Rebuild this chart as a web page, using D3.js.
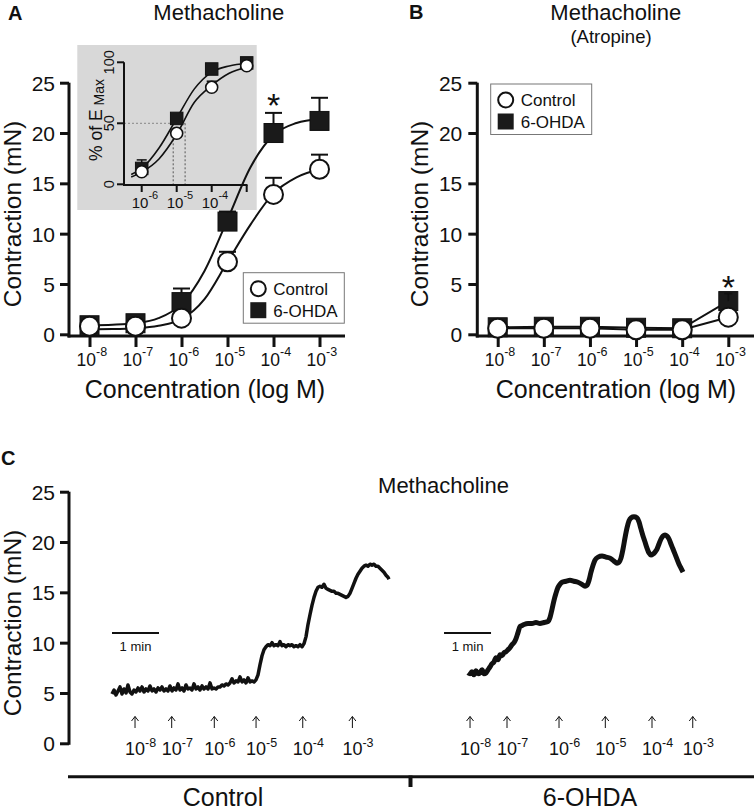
<!DOCTYPE html>
<html><head><meta charset="utf-8">
<script src="https://cdn.jsdelivr.net/npm/d3@7"></script>
<style>
body{margin:0;background:#fff;}
svg{display:block;font-family:"Liberation Sans",Arial,Helvetica,sans-serif;}
</style></head><body>
<svg id="c" width="754" height="810"></svg>
<script>
// ---------------- DATA ----------------
const logConc = [-8, -7, -6, -5, -4, -3];
const expLabels = ["-8", "-7", "-6", "-5", "-4", "-3"];
const yTicks = [0, 5, 10, 15, 20, 25];

// Panel A: methacholine (mN)
const aControl = [0.8, 0.8, 1.6, 7.2, 13.9, 16.4];
const aControlSem = [0.1, 0.1, 0.3, 1.0, 1.65, 1.45];
const aOhda = [0.9, 1.1, 3.2, 11.2, 20.0, 21.2];
const aOhdaSem = [0.2, 0.3, 1.35, 1.0, 2.0, 2.3];

// Panel A fitted curves
const fitLog = [-8, -7.5, -7, -6.5, -6, -5.5, -5, -4.5, -4, -3.5, -3];
const fitControl = [0.5, 0.52, 0.6, 0.85, 1.5, 3.5, 7.2, 10.9, 14.0, 15.6, 16.4];
const fitOhda = [0.9, 0.95, 1.1, 1.6, 3.0, 6.3, 11.4, 16.6, 19.8, 21.0, 21.4];

// Inset: % of Emax
const insetLog = [-6, -5, -4, -3];
const insetTickLabels = ["-6", "-5", "-4", ""];
const insetControl = [10.3, 41.8, 79.5, 97.2];
const insetControlSem = [2, 3, 5, 2];
const insetOhda = [13, 54, 94.5, 99.5];
const insetOhdaSem = [7, 3, 2, 1];
const insetFitLog = [-6.3, -6, -5.5, -5, -4.5, -4, -3.5, -3];
const insetFitControl = [6, 10, 21, 41, 67, 81, 91, 96];
const insetFitOhda = [8, 13, 30, 54, 78, 92, 97, 99];
const ec50Ohda = -5.1, ec50Control = -4.76;

// Panel B: methacholine + atropine (mN)
const bControl = [0.6, 0.6, 0.6, 0.45, 0.45, 1.7];
const bOhda = [0.7, 0.75, 0.75, 0.65, 0.6, 3.3];
const bOhdaSem = [0.05, 0.05, 0.05, 0.05, 0.05, 0.75];

// Panel C: raw traces [time (s), mN]
const traceControl = [
[0,4.9],[2.6,5.3],[5.1,4.8],[7.7,5.2],[10.2,5.6],[12.8,4.9],[15.3,5.4],[17.9,5.0],[20.4,5.8],[23,5.1],
[25.5,4.9],[28.1,5.3],[30.6,5.1],[33.2,5.5],[35.7,5.2],[38.3,5.6],[40.9,5.1],[43.4,5.4],[46,5.2],[48.5,5.7],
[51.1,5.2],[53.6,5.4],[56.2,5.1],[58.7,5.5],[61.3,5.3],[63.8,5.6],[66.4,5.2],[68.9,5.4],[71.5,5.2],[74,5.7],
[76.6,5.2],[79.1,5.5],[81.7,5.3],[84.3,5.9],[86.8,5.3],[89.4,5.5],[91.9,5.2],[94.5,5.8],[97,5.4],[99.6,5.5],
[102.1,5.3],[104.7,5.9],[107.2,5.4],[109.8,5.6],[112.3,5.3],[114.9,5.7],[117.4,5.4],[120,5.6],[122.6,5.4],[125.1,6.0],
[127.7,5.4],[130.2,5.5],[132.8,5.4],[135.3,5.6],[137.9,5.6],[140.4,5.8],[143,5.7],[145.5,5.9],[148.1,5.8],[150.6,6.0],
[153.2,6.4],[155.7,6.0],[158.3,6.2],[160.9,6.1],[163.4,6.6],[166,6.1],[168.5,6.3],[171.1,6.0],[173.6,6.5],[176.2,6.1],
[178.7,6.2],[181.3,6.1],[183.8,6.3],[186.4,6.8],[188.9,7.8],[191.5,8.7],[194,9.3],[196.6,9.6],[199.1,9.8],[201.7,9.7],
[204.3,10.0],[206.8,9.7],[209.4,9.8],[211.9,9.7],[214.5,10.1],[217,9.7],[219.6,9.8],[222.1,9.6],[224.7,9.8],[227.2,9.7],
[229.8,9.8],[232.3,9.6],[234.9,9.7],[237.4,9.6],[240,9.8],[242.6,9.6],[245.1,9.9],[247.7,10.6],[250.2,11.8],[252.8,12.8],
[255.3,13.7],[257.9,14.5],[260.4,15.1],[263,15.5],[265.5,15.6],[268.1,15.5],[270.6,15.8],[273.2,15.4],[275.7,15.3],[278.3,15.2],
[280.9,15.1],[283.4,15.1],[286,14.9],[288.5,14.9],[291.1,14.8],[293.6,14.7],[296.2,14.6],[298.7,14.5],[301.3,14.6],[303.8,14.9],
[306.4,15.4],[308.9,15.9],[311.5,16.4],[314,16.8],[316.6,17.1],[319.1,17.4],[321.7,17.6],[324.3,17.7],[326.8,17.6],[329.4,17.8],
[331.9,17.7],[334.5,17.8],[337,17.6],[339.6,17.6],[342.1,17.4],[344.7,17.2],[347.2,17.0],[349.8,16.7],[352.3,16.5],[353.6,16.3]
];
const traceOhda = [
[0,7.0],[2.6,6.9],[5.1,7.1],[7.7,6.8],[10.2,7.2],[12.8,6.9],[15.3,7.0],[17.9,7.3],[20.4,6.9],[23,7.0],
[25.5,7.3],[28.1,7.6],[30.6,7.9],[33.2,8.1],[35.7,8.5],[38.3,8.3],[40.9,8.8],[43.4,8.7],[46,9.0],[48.5,9.1],
[51.1,9.3],[53.6,9.5],[56.2,9.8],[58.7,10.0],[61.3,10.4],[63.8,11.0],[66.4,11.6],[68.9,11.7],[71.5,11.8],[76.6,11.9],
[81.7,11.9],[86.8,12.0],[91.9,11.9],[97,12.0],[102.1,12.1],[104.7,12.5],[107.2,13.3],[109.8,14.2],[112.3,14.9],[114.9,15.5],
[117.4,15.8],[120,16.0],[125.1,16.1],[130.2,16.2],[135.3,16.1],[140.4,16.0],[145.5,15.8],[149.4,15.6],[151.9,15.7],[154.5,16.2],
[157,17.0],[159.6,17.7],[162.1,18.2],[166,18.5],[171.1,18.6],[176.2,18.5],[181.3,18.4],[186.4,18.1],[190.2,17.9],[192.8,18.0],
[195.3,18.4],[197.9,19.3],[200.4,20.4],[203,21.4],[205.5,22.1],[208.1,22.4],[211.9,22.5],[215.7,22.4],[218.3,22.0],[220.8,21.3],
[223.4,20.6],[226,20.0],[228.5,19.4],[231.1,18.9],[233.6,18.7],[236.2,18.8],[238.7,19.0],[241.3,19.3],[243.8,19.8],[246.4,20.3],
[248.9,20.6],[251.5,20.7],[254,20.6],[256.6,20.3],[259.1,19.8],[261.7,19.3],[264.3,18.8],[266.8,18.3],[269.4,17.8],[271.9,17.4],[274.5,17.0]
];
const arrowsControl = [29.4, 76.2, 130.6, 183.9, 243.5, 306.9];
const arrowsOhda = [2.6, 49.8, 116.2, 175.3, 234.9, 286.9];
const groupLabels = ["Control", "6-OHDA"];

// ---------------- DRAWING ----------------
const svg = d3.select("#c");
const INK = "#111";

function supText(parent, x, y, exp, fs, sfs, up) {
  const t = parent.append("text").attr("x", x).attr("y", y)
    .attr("font-size", fs).attr("fill", INK);
  t.append("tspan").text("10");
  t.append("tspan").attr("font-size", sfs).attr("dy", -up).text(exp);
  return t;
}
function yAxisLeft(x, y, pad) {
  const g = svg.append("g").attr("transform", `translate(${x},0)`)
    .call(d3.axisLeft(y).tickValues(yTicks).tickSize(9).tickPadding(pad));
  g.select(".domain").remove();
  g.selectAll(".tick line").attr("stroke", INK).attr("stroke-width", 3);
  g.selectAll(".tick text").attr("font-size", 21).attr("fill", INK)
    .attr("font-family", '"Liberation Sans",Arial,sans-serif').attr("dy", "0.36em");
  return g;
}
function xAxisBottom(x, yPos) {
  const g = svg.append("g").attr("transform", `translate(0,${yPos})`)
    .call(d3.axisBottom(x).tickValues(logConc).tickSize(11).tickFormat(""));
  g.select(".domain").remove();
  g.selectAll(".tick line").attr("stroke", INK).attr("stroke-width", 3);
  logConc.forEach((v, i) => supText(svg, x(v) - 13, yPos + 30, expLabels[i], 17.5, 12.5, 10));
}
function hline(x1, x2, y, w) {
  svg.append("line").attr("x1", x1).attr("x2", x2).attr("y1", y).attr("y2", y)
    .attr("stroke", INK).attr("stroke-width", w);
}
function vline(x, y1, y2, w) {
  svg.append("line").attr("x1", x).attr("x2", x).attr("y1", y1).attr("y2", y2)
    .attr("stroke", INK).attr("stroke-width", w);
}
function rotLabel(x, y, txt, fs) {
  svg.append("text").attr("transform", `translate(${x},${y}) rotate(-90)`)
    .attr("text-anchor", "middle").attr("font-size", fs).attr("fill", INK).text(txt);
}
function label(x, y, txt, fs, anchor, bold) {
  return svg.append("text").attr("x", x).attr("y", y).attr("font-size", fs)
    .attr("text-anchor", anchor || "start").attr("font-weight", bold ? "bold" : null)
    .attr("fill", INK).text(txt);
}
function errBars(g, xs, vals, sems, x, y, cap, w) {
  xs.forEach((v, i) => {
    if (sems[i] <= 0) return;
    const top = y(vals[i] + sems[i]);
    g.append("line").attr("x1", x(v)).attr("x2", x(v)).attr("y1", y(vals[i])).attr("y2", top)
      .attr("stroke", INK).attr("stroke-width", w);
    g.append("line").attr("x1", x(v) - cap / 2).attr("x2", x(v) + cap / 2).attr("y1", top).attr("y2", top)
      .attr("stroke", INK).attr("stroke-width", w);
  });
}
function squares(g, xs, vals, x, y, s) {
  g.selectAll(null).data(xs).enter().append("rect")
    .attr("x", (d) => x(d) - s / 2).attr("y", (d, i) => y(vals[i]) - s / 2)
    .attr("width", s).attr("height", s).attr("fill", "#1a1a1a").attr("stroke", INK).attr("stroke-width", 1);
}
function circles(g, xs, vals, x, y, r, sw) {
  g.selectAll(null).data(xs).enter().append("circle")
    .attr("cx", (d) => x(d)).attr("cy", (d, i) => y(vals[i])).attr("r", r)
    .attr("fill", "#fff").attr("stroke", INK).attr("stroke-width", sw);
}
function legend(x, y) {
  svg.append("rect").attr("x", x).attr("y", y).attr("width", 101).attr("height", 50.5)
    .attr("fill", "#fff").attr("stroke", "#777").attr("stroke-width", 1);
  svg.append("circle").attr("cx", x + 15).attr("cy", y + 16).attr("r", 7.5)
    .attr("fill", "#fff").attr("stroke", INK).attr("stroke-width", 2);
  svg.append("rect").attr("x", x + 7).attr("y", y + 29.5).attr("width", 16).attr("height", 16).attr("fill", "#1a1a1a");
  label(x + 30, y + 22.3, groupLabels[0], 17);
  label(x + 30, y + 44, groupLabels[1], 17);
}

// ===== Panel A =====
const xA = d3.scaleLinear().domain([-8, -3]).range([89.5, 319.5]);
const yA = d3.scaleLinear().domain([0, 25]).range([334.3, 82.7]);
label(8, 20, "A", 20, "start", true);
label(218.8, 20, "Methacholine", 22, "middle");

// Inset
svg.append("rect").attr("x", 77.3).attr("y", 45).attr("width", 179.4).attr("height", 165).attr("fill", "#d8d8d8");
const xI = d3.scaleLinear().domain([-6, -3]).range([141.7, 246.7]);
const yI = d3.scaleLinear().domain([0, 100]).range([184.3, 62.3]);
const gi = svg.append("g");
gi.append("line").attr("x1", 124).attr("x2", xI(ec50Control)).attr("y1", yI(50)).attr("y2", yI(50))
  .attr("stroke", "#888").attr("stroke-width", 1).attr("stroke-dasharray", "2,2");
[ec50Ohda, ec50Control].forEach((e) => gi.append("line").attr("x1", xI(e)).attr("x2", xI(e))
  .attr("y1", yI(50)).attr("y2", yI(0)).attr("stroke", "#555").attr("stroke-width", 1).attr("stroke-dasharray", "2,2"));
gi.append("line").attr("x1", 124).attr("x2", 124).attr("y1", yI(100)).attr("y2", 185.5).attr("stroke", INK).attr("stroke-width", 2);
gi.append("line").attr("x1", 123).attr("x2", 247.5).attr("y1", 185).attr("y2", 185).attr("stroke", INK).attr("stroke-width", 2);
[0, 50, 100].forEach((v) => {
  gi.append("line").attr("x1", 117).attr("x2", 124).attr("y1", yI(v)).attr("y2", yI(v)).attr("stroke", INK).attr("stroke-width", 2);
  gi.append("text").attr("transform", `translate(114,${yI(v)}) rotate(-90)`).attr("text-anchor", "middle")
    .attr("font-size", 14.5).attr("fill", INK).text(v);
});
insetLog.forEach((v, i) => {
  gi.append("line").attr("x1", xI(v)).attr("x2", xI(v)).attr("y1", 185).attr("y2", 192).attr("stroke", INK).attr("stroke-width", 2);
  if (insetTickLabels[i]) supText(gi, xI(v) - 10, 208.3, insetTickLabels[i], 15, 11, 9);
});
const ilab = gi.append("text").attr("transform", "translate(102,120) rotate(-90)").attr("text-anchor", "middle")
  .attr("fill", INK);
ilab.append("tspan").attr("font-size", 17.5).text("% of E");
ilab.append("tspan").attr("font-size", 14).attr("dy", 1.5).text(" Max");
const lineI = d3.line().x((d) => xI(d[0])).y((d) => yI(d[1])).curve(d3.curveMonotoneX);
gi.append("path").attr("d", lineI(insetFitLog.map((v, i) => [v, insetFitOhda[i]])))
  .attr("fill", "none").attr("stroke", INK).attr("stroke-width", 1.6);
gi.append("path").attr("d", lineI(insetFitLog.map((v, i) => [v, insetFitControl[i]])))
  .attr("fill", "none").attr("stroke", INK).attr("stroke-width", 1.6);
errBars(gi, insetLog, insetOhda, insetOhdaSem, xI, yI, 10, 1.5);
errBars(gi, insetLog, insetControl, insetControlSem, xI, yI, 10, 1.5);
squares(gi, insetLog, insetOhda, xI, yI, 12.5);
circles(gi, insetLog, insetControl, xI, yI, 6, 1.6);

// Main axes A
hline(67.5, 345, 336, 3);
vline(69, 82.7, 337.5, 3);
yAxisLeft(69, yA, 5);
xAxisBottom(xA, 336);
rotLabel(20.5, 214, "Contraction (mN)", 24.5);
label(205, 398, "Concentration (log M)", 25, "middle");

const gA = svg.append("g");
const lineA = d3.line().x((d) => xA(d[0])).y((d) => yA(d[1])).curve(d3.curveMonotoneX);
gA.append("path").attr("d", lineA(fitLog.map((v, i) => [v, fitOhda[i]])))
  .attr("fill", "none").attr("stroke", INK).attr("stroke-width", 2);
gA.append("path").attr("d", lineA(fitLog.map((v, i) => [v, fitControl[i]])))
  .attr("fill", "none").attr("stroke", INK).attr("stroke-width", 2);
errBars(gA, logConc, aOhda, aOhdaSem, xA, yA, 17, 2);
errBars(gA, logConc, aControl, aControlSem, xA, yA, 17, 2);
squares(gA, logConc, aOhda, xA, yA, 19);
circles(gA, logConc, aControl, xA, yA, 9.5, 2);
legend(243.3, 272.7);
label(xA(-4), 117, "*", 34, "middle");

// ===== Panel B =====
const xB = d3.scaleLinear().domain([-8, -3]).range([497.7, 728.3]);
const yB = d3.scaleLinear().domain([0, 25]).range([334.3, 82.7]);
label(409, 18.5, "B", 20, "start", true);
label(615.8, 20, "Methacholine", 22, "middle");
label(611, 43, "(Atropine)", 18.5, "middle");
hline(475.8, 754, 336, 3);
vline(477.3, 82.7, 337.5, 3);
yAxisLeft(477.3, yB, 6);
xAxisBottom(xB, 336);
rotLabel(428, 214, "Contraction (mN)", 24.5);
label(616, 398, "Concentration (log M)", 25, "middle");
const gB = svg.append("g");
const lineB = d3.line().x((d) => xB(d[0])).y((d) => yB(d[1]));
gB.append("path").attr("d", lineB(logConc.map((v, i) => [v, bOhda[i]])))
  .attr("fill", "none").attr("stroke", INK).attr("stroke-width", 2);
gB.append("path").attr("d", lineB(logConc.map((v, i) => [v, bControl[i]])))
  .attr("fill", "none").attr("stroke", INK).attr("stroke-width", 2);
squares(gB, logConc, bOhda, xB, yB, 19);
errBars(gB, logConc, bOhda, bOhdaSem, xB, yB, 8, 1.5);
circles(gB, logConc, bControl, xB, yB, 9.5, 2);
legend(490.7, 84);
label(xB(-3), 298.6, "*", 34, "middle");

// ===== Panel C =====
const yC = d3.scaleLinear().domain([0, 25]).range([743.3, 491.7]);
const xC1 = d3.scaleLinear().domain([0, 60]).range([112, 159]);
const xC2 = d3.scaleLinear().domain([0, 60]).range([468, 515]);
label(1, 465, "C", 20, "start", true);
label(443.5, 492.5, "Methacholine", 22, "middle");
vline(69, 491.7, 744.8, 3);
yAxisLeft(69, yC, 5);
rotLabel(20.5, 623, "Contraction (mN)", 24.5);

const gC = svg.append("g");
gC.append("path").attr("d", d3.line().x((d) => xC1(d[0])).y((d) => yC(d[1]))(traceControl))
  .attr("fill", "none").attr("stroke", INK).attr("stroke-width", 3.5).attr("stroke-linejoin", "round");
gC.append("path").attr("d", d3.line().x((d) => xC2(d[0])).y((d) => yC(d[1])).curve(d3.curveMonotoneX)(traceOhda))
  .attr("fill", "none").attr("stroke", INK).attr("stroke-width", 5).attr("stroke-linejoin", "round");

[[xC1, 0], [xC2, -30.6]].forEach(([sc, t0]) => {
  gC.append("line").attr("x1", sc(t0)).attr("x2", sc(t0 + 60)).attr("y1", yC(10.95)).attr("y2", yC(10.95))
    .attr("stroke", INK).attr("stroke-width", 2);
  gC.append("text").attr("x", sc(t0 + 30)).attr("y", 650.5).attr("text-anchor", "middle")
    .attr("font-size", 13).attr("fill", INK).text("1 min");
});
[[xC1, arrowsControl], [xC2, arrowsOhda]].forEach(([sc, ts]) => {
  ts.forEach((t, i) => {
    const x = sc(t);
    gC.append("line").attr("x1", x).attr("x2", x).attr("y1", 728).attr("y2", 716.5)
      .attr("stroke", INK).attr("stroke-width", 1);
    gC.append("polyline").attr("points", `${x - 3.5},721 ${x},716.5 ${x + 3.5},721`)
      .attr("fill", "none").attr("stroke", INK).attr("stroke-width", 1);
    supText(gC, x - 10, 755, expLabels[i], 18, 12.5, 8.5);
  });
});
hline(68, 754, 776.7, 3);
vline(410.5, 775.5, 787, 4);
label(223, 806, groupLabels[0], 25, "middle");
label(590, 806, groupLabels[1], 25, "middle");
</script>
</body></html>
